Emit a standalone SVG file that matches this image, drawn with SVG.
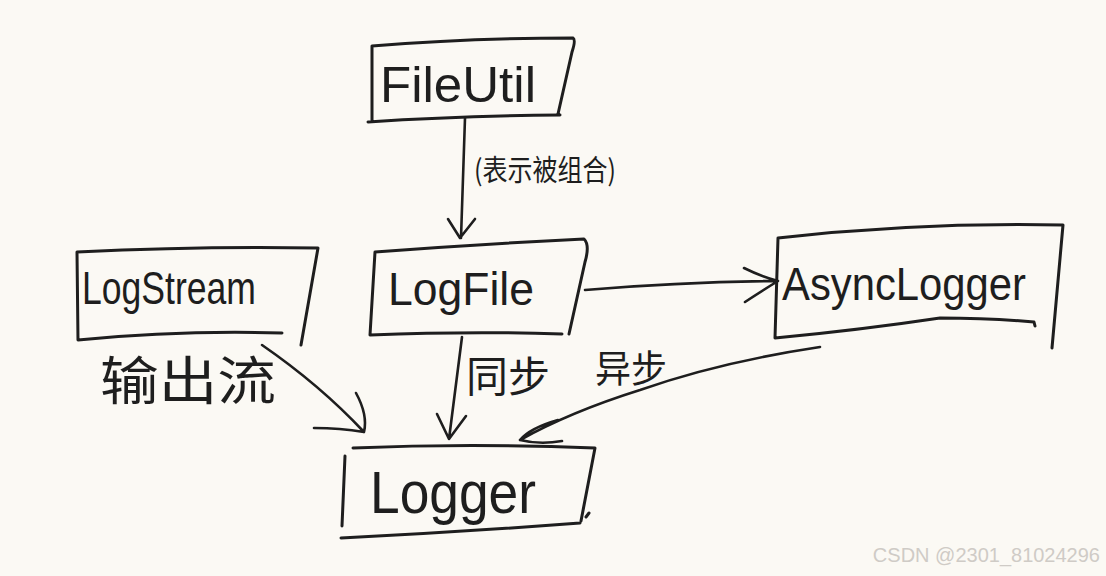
<svg xmlns="http://www.w3.org/2000/svg" width="1106" height="576" viewBox="0 0 1106 576">
<style>
.bx{fill:none;stroke:#1e1e1e;stroke-width:3;stroke-linecap:round;stroke-linejoin:round}
.ln{fill:none;stroke:#1e1e1e;stroke-width:2.6;stroke-linecap:round;stroke-linejoin:round}
.t{font-family:"Liberation Sans","DejaVu Sans",sans-serif;fill:#1e1e1e;font-weight:normal}
.c{font-family:"Noto Sans CJK SC","Noto Sans CJK JP",sans-serif;fill:#1e1e1e}
</style>
<rect width="1106" height="576" fill="#fbf9f4"/>
<g id="node-fileutil">
<path class="bx" d="M372 46 Q470 38 573 38 Q576 40 572 52 L558 114 M372 46 L372 120 M368 122 Q460 116 560 115"/>
<text class="t" x="380" y="102" font-size="50" textLength="156" lengthAdjust="spacingAndGlyphs">FileUtil</text>
</g>
<g id="node-logfile">
<path class="bx" d="M375 252 Q480 244 584 239 Q590 245 585 262 L569 334 M375 252 L370 335 M370 335 Q470 331 562 334"/>
<text class="t" x="388" y="305" font-size="46" textLength="146" lengthAdjust="spacingAndGlyphs">LogFile</text>
</g>
<g id="node-logstream">
<path class="bx" d="M77 252 Q200 246 318 248 L301 345 M77 252 L78 340 Q180 330 282 333"/>
<text class="t" x="82" y="304" font-size="46" textLength="174" lengthAdjust="spacingAndGlyphs">LogStream</text>
</g>
<g id="node-asynclogger">
<path class="bx" d="M778 238 Q920 222 1063 225 L1052 348 M778 238 L775 338 Q860 330 940 318 Q990 318 1034 322 L1035 326"/>
<text class="t" x="782" y="300" font-size="46" textLength="244" lengthAdjust="spacingAndGlyphs">AsyncLogger</text>
</g>
<g id="node-logger">
<path class="bx" d="M353 448 Q470 443 595 448 L581 521 M345 456 L342 526 M341 538 Q460 532 580 523 M586 517 L589 513"/>
<text class="t" x="370" y="513" font-size="60" textLength="166" lengthAdjust="spacingAndGlyphs">Logger</text>
</g>
<g id="connectors">
<path class="ln" d="M465 118 L461 238 M448 219 L460 238 L475 219"/>
<path class="ln" d="M585 290 Q680 282 775 281 M744 268 Q760 276 778 281 Q760 292 745 302"/>
<path class="ln" d="M262 345 Q320 385 364 432 M356 393 Q368 415 364 432 Q340 428 314 428"/>
<path class="ln" d="M462 337 L449 439 M437 414 L449 439 L466 416"/>
<path class="ln" d="M820 347 Q720 362 640 390 Q570 412 520 440 M558 420 Q530 428 520 440 Q540 445 562 441"/>
</g>
<g id="labels">
<text class="c" x="474" y="181" font-size="29" textLength="142" lengthAdjust="spacingAndGlyphs">(表示被组合)</text>
<text class="c" x="100" y="400" font-size="52" textLength="176" lengthAdjust="spacingAndGlyphs">输出流</text>
<text class="c" x="466" y="392" font-size="42" textLength="84" lengthAdjust="spacingAndGlyphs">同步</text>
<text class="c" x="595" y="382" font-size="38" textLength="72" lengthAdjust="spacingAndGlyphs">异步</text>
</g>
<text x="1100" y="562" text-anchor="end" font-family="Liberation Sans, sans-serif" font-size="20" fill="#cfcbc6">CSDN @2301_81024296</text>
</svg>
